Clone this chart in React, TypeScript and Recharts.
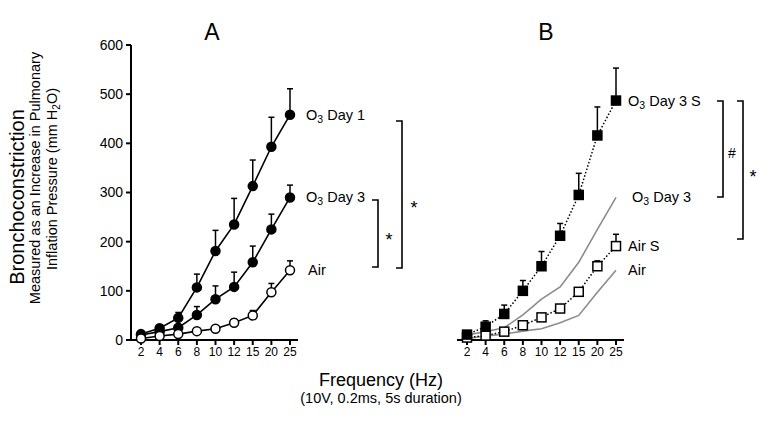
import React from 'react';
import { ComposedChart, Line, XAxis, YAxis, ErrorBar, LabelList } from 'recharts';

const freq = ['2', '4', '6', '8', '10', '12', '15', '20', '25'];
const yTicks = [0, 100, 200, 300, 400, 500, 600];

// panel A
const o3Day1 = [12, 24, 45, 107, 181, 235, 313, 393, 458];
const o3Day1Err = [3, 4, 11, 27, 42, 53, 53, 60, 53];
const o3Day3 = [10, 17, 25, 51, 83, 108, 158, 225, 290];
const o3Day3Err = [2, 3, 4, 17, 27, 30, 33, 31, 25];
const air = [3, 8, 12, 18, 23, 35, 50, 97, 142];
const airErr = [1, 1, 2, 2, 3, 7, 10, 18, 19];

// panel B
const o3Day3S = [11, 27, 53, 100, 150, 212, 295, 416, 487];
const o3Day3SErr = [3, 12, 18, 21, 30, 25, 44, 58, 66];
const airS = [5, 9, 17, 30, 46, 64, 98, 150, 191];
const airSErr = [1, 1, 2, 3, 7, 8, 8, 11, 24];

const dataA = freq.map((f, i) => ({
  f,
  o3d1: o3Day1[i], o3d1e: [0, o3Day1Err[i]],
  o3d3: o3Day3[i], o3d3e: [0, o3Day3Err[i]],
  air: air[i], aire: [0, airErr[i]],
}));

const dataB = freq.map((f, i) => ({
  f,
  o3d3s: o3Day3S[i], o3d3se: [0, o3Day3SErr[i]],
  airs: airS[i], airse: [0, airSErr[i]],
  o3d3: o3Day3[i],
  air: air[i],
}));

const FONT = '"Liberation Sans", Arial, Helvetica, sans-serif';
const W = 783;
const H = 421;

const square = (fill: string) => (props: any) => {
  const { cx, cy, index } = props;
  if (cx == null || cy == null) return <g key={index} />;
  return <rect key={index} x={cx - 4.5} y={cy - 4.5} width={9} height={9} fill={fill} stroke="#000" strokeWidth={1.5} />;
};

// series name next to last point, "O3" with subscript
const endLabel = (name: string, dx: number, sub: boolean) => (props: any) => {
  const { x, y, index } = props;
  if (index !== freq.length - 1) return null;
  return (
    <text x={x + dx} y={y} dominantBaseline="central" fontSize={14.5} fontFamily={FONT} fill="#000">
      {sub ? (
        <>
          <tspan>O</tspan>
          <tspan dy={4} fontSize={10.5}>3</tspan>
          <tspan dy={-4}>{name}</tspan>
        </>
      ) : (
        <tspan>{name}</tspan>
      )}
    </text>
  );
};

const tickStyle = { fontSize: 12, fill: '#000', fontFamily: FONT };
const axisLine = { stroke: '#000', strokeWidth: 2 };
const xPad = { left: 10, right: 8 };

const Bracket = ({ x, y1, y2, mark, mx, my, size }: { x: number; y1: number; y2: number; mark: string; mx: number; my: number; size: number }) => (
  <g>
    <path d={`M${x - 6},${y1} H${x} V${y2} H${x - 6}`} fill="none" stroke="#000" strokeWidth={1.6} />
    <text x={mx} y={my} textAnchor="middle" dominantBaseline="central" fontSize={size}>{mark}</text>
  </g>
);

export default function App() {
  return (
    <div style={{ position: 'relative', width: W, height: H, background: '#fff', fontFamily: FONT }}>
      <style>{'body{margin:0}'}</style>
      <div style={{ position: 'absolute', left: 0, top: 0 }}>
        <ComposedChart width={W} height={H} data={dataA} margin={{ top: 45, left: 91, right: W - 298, bottom: 56 }}>
          <XAxis dataKey="f" interval={0} padding={xPad} tick={tickStyle} tickSize={5} tickMargin={2} axisLine={axisLine} tickLine={axisLine} height={25} />
          <YAxis domain={[0, 600]} ticks={yTicks} width={40} tick={{ ...tickStyle, fontSize: 14 }} tickSize={5} tickMargin={3} axisLine={axisLine} tickLine={axisLine} />
          <Line dataKey="o3d1" type="linear" stroke="#000" strokeWidth={1.6} dot={{ r: 4.5, fill: '#000', stroke: '#000', strokeWidth: 1.5 }} isAnimationActive={false}>
            <ErrorBar dataKey="o3d1e" direction="y" width={3} stroke="#000" strokeWidth={1.5} />
            <LabelList dataKey="o3d1" content={endLabel(' Day 1', 16, true)} />
          </Line>
          <Line dataKey="o3d3" type="linear" stroke="#000" strokeWidth={1.6} dot={{ r: 4.5, fill: '#000', stroke: '#000', strokeWidth: 1.5 }} isAnimationActive={false}>
            <ErrorBar dataKey="o3d3e" direction="y" width={3} stroke="#000" strokeWidth={1.5} />
            <LabelList dataKey="o3d3" content={endLabel(' Day 3', 16, true)} />
          </Line>
          <Line dataKey="air" type="linear" stroke="#000" strokeWidth={1.6} dot={{ r: 4.5, fill: '#fff', stroke: '#000', strokeWidth: 1.5 }} isAnimationActive={false}>
            <ErrorBar dataKey="aire" direction="y" width={3} stroke="#000" strokeWidth={1.5} />
            <LabelList dataKey="air" content={endLabel('Air', 18, false)} />
          </Line>
        </ComposedChart>
      </div>
      <div style={{ position: 'absolute', left: 0, top: 0 }}>
        <ComposedChart width={W} height={H} data={dataB} margin={{ top: 45, left: 457, right: W - 624, bottom: 56 }}>
          <XAxis dataKey="f" interval={0} padding={xPad} tick={tickStyle} tickSize={5} tickMargin={2} axisLine={axisLine} tickLine={axisLine} height={25} />
          <YAxis domain={[0, 600]} ticks={yTicks} hide />
          <Line dataKey="o3d3" type="linear" stroke="#8c8c8c" strokeWidth={1.6} dot={false} isAnimationActive={false}>
            <LabelList dataKey="o3d3" content={endLabel(' Day 3', 16, true)} />
          </Line>
          <Line dataKey="air" type="linear" stroke="#8c8c8c" strokeWidth={1.6} dot={false} isAnimationActive={false}>
            <LabelList dataKey="air" content={endLabel('Air', 12, false)} />
          </Line>
          <Line dataKey="airs" type="linear" stroke="#000" strokeWidth={1.5} strokeDasharray="1.5 2" dot={square('#fff')} isAnimationActive={false}>
            <ErrorBar dataKey="airse" direction="y" width={3} stroke="#000" strokeWidth={1.5} />
            <LabelList dataKey="airs" content={endLabel('Air S', 12, false)} />
          </Line>
          <Line dataKey="o3d3s" type="linear" stroke="#000" strokeWidth={1.5} strokeDasharray="1.5 2" dot={square('#000')} isAnimationActive={false}>
            <ErrorBar dataKey="o3d3se" direction="y" width={3} stroke="#000" strokeWidth={1.5} />
            <LabelList dataKey="o3d3s" content={endLabel(' Day 3 S', 12, true)} />
          </Line>
        </ComposedChart>
      </div>
      <svg width={W} height={H} style={{ position: 'absolute', left: 0, top: 0, pointerEvents: 'none' }} fontFamily={FONT}>
        <text x={212} y={32} textAnchor="middle" dominantBaseline="central" fontSize={23}>A</text>
        <text x={546} y={32} textAnchor="middle" dominantBaseline="central" fontSize={23}>B</text>

        <Bracket x={378} y1={200} y2={267} mark="*" mx={389} my={240} size={18} />
        <Bracket x={402} y1={121} y2={268} mark="*" mx={414} my={208} size={18} />
        <Bracket x={723} y1={101} y2={197} mark="#" mx={732} my={153} size={14} />
        <Bracket x={743} y1={101} y2={239} mark="*" mx={753} my={177} size={18} />

        <text transform="translate(17,197) rotate(-90)" textAnchor="middle" dominantBaseline="central" fontSize={20}>Bronchoconstriction</text>
        <text transform="translate(35,178) rotate(-90)" textAnchor="middle" dominantBaseline="central" fontSize={14.5}>Measured as an Increase in Pulmonary</text>
        <text transform="translate(52,179) rotate(-90)" textAnchor="middle" dominantBaseline="central" fontSize={14.5}>
          <tspan>Inflation Pressure (mm H</tspan>
          <tspan dy={4} fontSize={10}>2</tspan>
          <tspan dy={-4}>O)</tspan>
        </text>

        <text x={381} y={380} textAnchor="middle" dominantBaseline="central" fontSize={18}>Frequency (Hz)</text>
        <text x={381} y={398} textAnchor="middle" dominantBaseline="central" fontSize={14.5}>(10V, 0.2ms, 5s duration)</text>
      </svg>
    </div>
  );
}
